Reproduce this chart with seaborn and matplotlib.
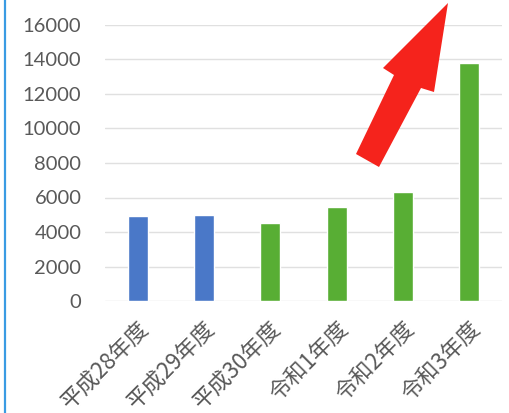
import matplotlib
matplotlib.use("Agg")
import matplotlib.pyplot as plt
import seaborn as sns
import pandas as pd
from matplotlib.patches import Polygon
from matplotlib.lines import Line2D

categories = ["平成28年度", "平成29年度", "平成30年度", "令和1年度", "令和2年度", "令和3年度"]
values = [4900, 5000, 4550, 5450, 6300, 13800]
bar_colors = ["#4A78C8", "#4A78C8", "#58AE34", "#58AE34", "#58AE34", "#58AE34"]
yticks = [0, 2000, 4000, 6000, 8000, 10000, 12000, 14000, 16000]

sns.set_theme(style="white")
plt.rcParams["font.family"] = ["Noto Sans CJK JP", "DejaVu Sans"]

df = pd.DataFrame({"year": categories, "value": values})

W, H = 510, 413
fig = plt.figure(figsize=(W / 100, H / 100), dpi=100)
ax = fig.add_axes([105 / W, 1 - 301 / H, (502 - 105) / W, (301 - 25) / H])

sns.barplot(data=df, x="year", y="value", hue="year",
            palette=dict(zip(categories, bar_colors)), legend=False,
            width=0.3, saturation=1, ax=ax, zorder=3)

ax.set_ylim(0, 16000)
ax.set_yticks(yticks)
ax.set_yticklabels([str(t) for t in yticks], fontsize=14.5, color="#595959",
                   family=["Lato", "DejaVu Sans"])
ax.set_xlabel("")
ax.set_ylabel("")
ax.grid(axis="y", color="#E0E0E0", linewidth=1, zorder=0)
ax.set_axisbelow(True)
for s in ax.spines.values():
    s.set_visible(False)
ax.tick_params(axis="y", length=0, pad=17)
ax.tick_params(axis="x", length=0, pad=12)
for lbl in ax.get_xticklabels():
    lbl.set_rotation(45)
    lbl.set_ha("right")
    lbl.set_va("top")
    lbl.set_rotation_mode("anchor")
    lbl.set_fontsize(16)
    lbl.set_color("#595959")

# red arrow decoration (pixel positions -> figure fraction)
pts_px = [(448, 3), (434, 92), (421, 88), (379, 167), (356, 154), (394, 75), (383, 68)]
pts = [(x / W, 1 - y / H) for x, y in pts_px]
fig.add_artist(Polygon(pts, closed=True, transform=fig.transFigure,
                       facecolor="#F5231C", edgecolor="none", zorder=10))

# left blue border line
fig.add_artist(Line2D([5 / W, 5 / W], [0, 1], transform=fig.transFigure,
                      color="#3A9BE3", linewidth=1.6))

fig.savefig("out.png", dpi=100)
